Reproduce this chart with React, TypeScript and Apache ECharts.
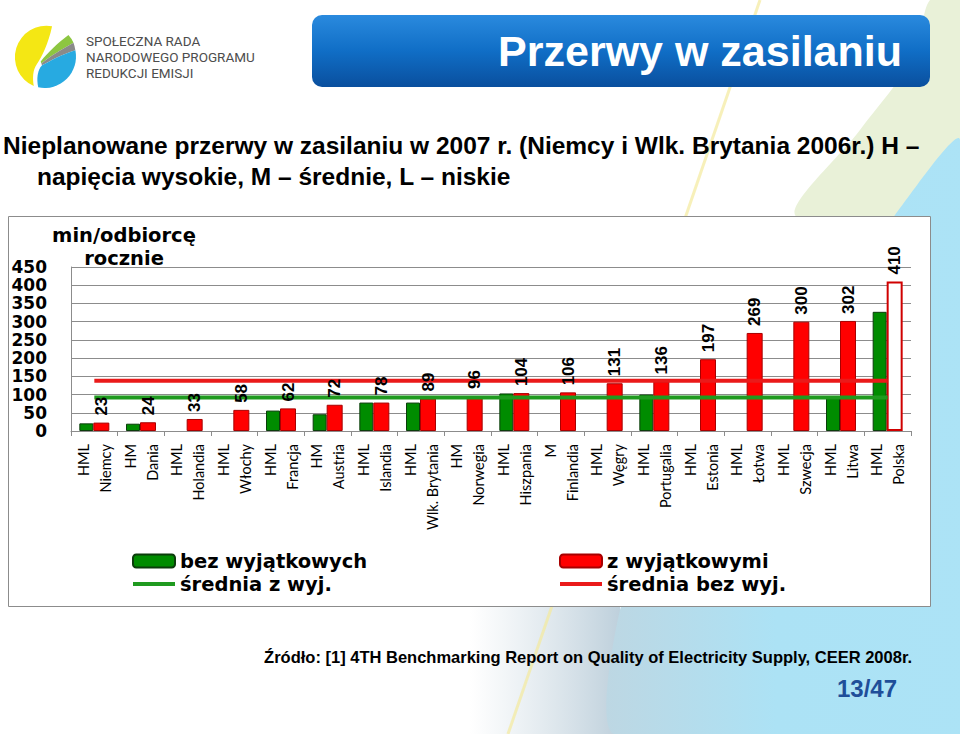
import { useEffect, useRef } from 'react';
import * as echarts from 'echarts';

// ---- data ----
const categories = [
  'HML\nNiemcy', 'HM\nDania', 'HML\nHolandia', 'HML\nWłochy', 'HML\nFrancja', 'HM\nAustria',
  'HML\nIslandia', 'HML\nWlk. Brytania', 'HM\nNorwegia', 'HML\nHiszpania', 'M\nFinlandia',
  'HML\nWęgry', 'HML\nPortugalia', 'HML\nEstonia', 'HML\nŁotwa', 'HML\nSzwecja', 'HML\nLitwa', 'HML\nPolska',
];
const bezWyjatkowych: (number | null)[] = [21, 20, null, null, 56, 46, 78, 78, null, 103, null, null, 100, null, null, null, 90, 327];
const zWyjatkowymi = [23, 24, 33, 58, 62, 72, 78, 89, 96, 104, 106, 131, 136, 197, 269, 300, 302, 410];
const sredniaZWyj = [92, 92, 92, 92, 92, 92, 92, 92, 92, 92, 92, 92, 92, 92, 92, 92, 92, 92];
const sredniaBezWyj = [138, 138, 138, 138, 138, 138, 138, 138, 138, 138, 138, 138, 138, 138, 138, 138, 138, 138];
const yMin = 0;
const yMax = 450;
const yStep = 50;
const hollowBarIndex = 17; // Polska drawn as an outlined bar
const legendLeft = ['bez wyjątkowych', 'średnia z wyj.'];
const legendRight = ['z wyjątkowymi', 'średnia bez wyj.'];

const LOGO_YELLOW = 'M62 2 A50 50 0 0 0 33 97 C31 85 31 72 38 62 C46 50 56 30 62 2 Z';
const LOGO_GREEN = 'M44 58 C55 44 72 28 88 16 A50 50 0 0 1 96 28 C78 38 58 50 45 61 Z';
const LOGO_GRAY = 'M45 61 C58 50 78 38 96 28 A50 50 0 0 1 99 40 C80 46 60 56 46 64 Z';
const LOGO_BLUE = 'M46 64 C60 56 80 46 99 40 A50 50 0 0 1 40 99 C37 85 39 72 46 64 Z';

const ARIAL = '"Liberation Sans", Arial, sans-serif';
const VERD = '"DejaVu Sans", Verdana, sans-serif';

export default function App() {
  const ref = useRef<HTMLDivElement>(null);
  useEffect(() => {
    if (!ref.current) return;
    echarts.graphic.registerShape('logoYellow', echarts.graphic.extendPath(LOGO_YELLOW, {}));
    echarts.graphic.registerShape('logoBlue', echarts.graphic.extendPath(LOGO_BLUE, {}));
    echarts.graphic.registerShape('logoGray', echarts.graphic.extendPath(LOGO_GRAY, {}));
    echarts.graphic.registerShape('logoGreen', echarts.graphic.extendPath(LOGO_GREEN, {}));
    const chart = echarts.init(ref.current, null, { renderer: 'svg' });

    const redData = zWyjatkowymi.map((v, i) =>
      i === hollowBarIndex
        ? { value: v, itemStyle: { color: '#ffffff', borderColor: '#d00000', borderWidth: 2 } }
        : v
    );

    const logoPos = { x: 13, y: 25, scaleX: 0.63, scaleY: 0.63 };

    const legendCommon = {
      orient: 'vertical',
      top: 551,
      padding: 0,
      itemWidth: 42,
      itemHeight: 13,
      itemGap: 3,
      lineStyle: { width: 4 },
      textStyle: { fontFamily: VERD, fontWeight: 'bold', fontSize: 19.5, lineHeight: 20, color: '#000' },
    };

    const txt = (x: number, y: number, text: string, font: string, fill = '#000', align = 'left') => ({
      type: 'text', z: 6, x, y,
      style: { text, fill, font, textAlign: align, align, textVerticalAlign: 'middle', verticalAlign: 'middle' },
    });

    chart.setOption({
      animation: false,
      backgroundColor: '#ffffff',
      graphic: [
        // background decoration
        { type: 'polygon', z: -10, shape: { points: [[930, 0], [960, 0], [960, 150], [900, 215], [795, 215], [860, 130], [915, 55]], smooth: 0.3 }, style: { fill: '#e9f1d8' } },
        { type: 'rect', z: -10, shape: { x: 470, y: 600, width: 150, height: 134 }, style: { fill: new echarts.graphic.LinearGradient(0, 0, 1, 0, [{ offset: 0, color: 'rgba(205,218,226,0)' }, { offset: 1, color: 'rgba(190,208,220,1)' }]) } },
        { type: 'polygon', z: -9, shape: { points: [[960, 140], [895, 215], [770, 380], [665, 520], [620, 610], [614, 734], [960, 734]], smooth: 0.2 }, style: { fill: new echarts.graphic.LinearGradient(0, 0, 1, 0, [{ offset: 0, color: '#bdd7e3' }, { offset: 0.45, color: '#ace2f5' }, { offset: 1, color: '#ace3f6' }]) } },
        { type: 'line', z: -8, shape: { x1: 508, y1: 734, x2: 760, y2: 0 }, style: { stroke: '#f3ea9c', lineWidth: 3, opacity: 0.7 } },
        // chart box
        { type: 'rect', z: -5, shape: { x: 8.5, y: 216.5, width: 922, height: 390 }, style: { fill: '#ffffff', stroke: '#8c8c8c', lineWidth: 1 } },
        // logo
        { type: 'logoYellow', z: 5, ...logoPos, style: { fill: '#f4e714' } },
        { type: 'logoGreen', z: 5, ...logoPos, style: { fill: '#8dc641' } },
        { type: 'logoGray', z: 5, ...logoPos, style: { fill: '#8a8a8a' } },
        { type: 'logoBlue', z: 5, ...logoPos, style: { fill: '#27aae1' } },
        txt(86, 41, 'SPOŁECZNA RADA', '13.5px Roboto, sans-serif', '#4d4d4d'),
        txt(86, 57, 'NARODOWEGO PROGRAMU', '13.5px Roboto, sans-serif', '#4d4d4d'),
        txt(86, 73, 'REDUKCJI EMISJI', '13.5px Roboto, sans-serif', '#4d4d4d'),
        // title bar
        { type: 'rect', z: 5, shape: { x: 312, y: 15, width: 618, height: 72, r: 10 }, style: { fill: new echarts.graphic.LinearGradient(0, 0, 0, 1, [{ offset: 0, color: '#2a8ade' }, { offset: 0.5, color: '#106ec6' }, { offset: 1, color: '#0a4f9e' }]) } },
        txt(902, 51, 'Przerwy w zasilaniu', `bold 43px ${ARIAL}`, '#ffffff', 'right'),
        // subtitle
        txt(3, 145, 'Nieplanowane przerwy w zasilaniu w 2007 r. (Niemcy i Wlk. Brytania 2006r.) H –', `bold 24.5px ${ARIAL}`),
        txt(37, 176, 'napięcia wysokie, M – średnie, L – niskie', `bold 24.5px ${ARIAL}`),
        // y axis name
        { type: 'text', z: 6, x: 124, y: 224, style: { text: 'min/odbiorcę\nrocznie', fill: '#000', font: `bold 19.5px ${VERD}`, lineHeight: 23, textAlign: 'center', align: 'center', textVerticalAlign: 'top', verticalAlign: 'top' } },
        // source and page number
        txt(912, 657, 'Źródło: [1] 4TH Benchmarking Report on Quality of Electricity Supply, CEER 2008r.', `bold 16.5px ${ARIAL}`, '#000', 'right'),
        txt(897, 688, '13/47', `bold 24px ${ARIAL}`, '#1f4e99', 'right'),
      ],
      legend: [
        { ...legendCommon, left: 131, data: legendLeft },
        { ...legendCommon, left: 558, data: legendRight },
      ],
      grid: { left: 71, right: 49, top: 267, bottom: 303 },
      xAxis: [
        {
          type: 'category',
          data: categories,
          boundaryGap: true,
          axisLine: { lineStyle: { color: '#8c8c8c', width: 1 } },
          axisTick: { show: true, length: 5, lineStyle: { color: '#8c8c8c' } },
          axisLabel: { interval: 0, rotate: 90, margin: 13, fontFamily: 'Lato, sans-serif', fontSize: 14.5, lineHeight: 22, color: '#000' },
        },
        // hidden twin axis that carries the value labels above the average lines
        { type: 'category', data: categories, show: false, gridIndex: 0 },
      ],
      yAxis: {
        type: 'value',
        min: yMin,
        max: yMax,
        interval: yStep,
        axisLine: { show: true, lineStyle: { color: '#8c8c8c', width: 1 } },
        axisTick: { show: false },
        splitLine: { lineStyle: { color: '#8c8c8c', width: 1 } },
        axisLabel: { margin: 24, fontFamily: VERD, fontWeight: 'bold', fontSize: 17, color: '#000' },
      },
      series: [
        { name: 'bez wyjątkowych', type: 'bar', data: bezWyjatkowych, barWidth: 14, barGap: '0%', z: 2, itemStyle: { color: '#008c00', borderColor: '#0b3d0b', borderWidth: 1 } },
        { name: 'z wyjątkowymi', type: 'bar', data: redData, barWidth: 16, barGap: '0%', z: 2, itemStyle: { color: '#ff0000', borderColor: '#a80000', borderWidth: 1 } },
        { name: 'średnia z wyj.', type: 'line', data: sredniaZWyj, symbol: 'none', z: 3, lineStyle: { color: '#1f9a1f', width: 4 }, itemStyle: { color: 'rgba(0,0,0,0)', borderWidth: 0 } },
        { name: 'średnia bez wyj.', type: 'line', data: sredniaBezWyj, symbol: 'none', z: 3, lineStyle: { color: '#ea1a1a', width: 4 }, itemStyle: { color: 'rgba(0,0,0,0)', borderWidth: 0 } },
        { name: 'slot', type: 'bar', xAxisIndex: 1, data: bezWyjatkowych, barWidth: 14, barGap: '0%', z: 10, silent: true, itemStyle: { color: 'rgba(0,0,0,0)' } },
        {
          name: 'etykiety', type: 'bar', xAxisIndex: 1, data: zWyjatkowymi, barWidth: 16, barGap: '0%', z: 10, silent: true,
          itemStyle: { color: 'rgba(0,0,0,0)' },
          label: { show: true, position: 'top', rotate: 90, align: 'left', verticalAlign: 'middle', distance: 7, fontFamily: ARIAL, fontWeight: 'bold', fontSize: 17, color: '#000' },
        },
      ],
    });
    return () => chart.dispose();
  }, []);
  return <div ref={ref} style={{ position: 'fixed', left: 0, top: 0, width: 960, height: 734 }} />;
}
